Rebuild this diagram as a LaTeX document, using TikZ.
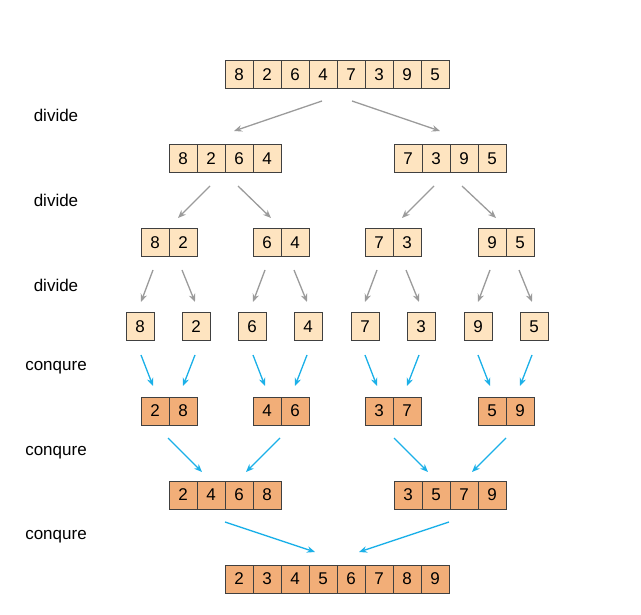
\documentclass[tikz,border=0pt]{standalone}
\usepackage{fontspec}
\setmainfont{Liberation Sans}
\usetikzlibrary{arrows.meta}
\definecolor{peach}{HTML}{FEE4C0}
\definecolor{apricot}{HTML}{F2AE78}
\definecolor{cellline}{HTML}{404040}
\definecolor{splitgray}{HTML}{9B9B9B}
\definecolor{mergeblue}{HTML}{1BB0E8}
\tikzset{
  cell/.style={draw=cellline, line width=1pt, minimum width=28, minimum height=28,
    inner sep=0pt, font=\fontsize{17}{19}\selectfont},
  lite/.style={cell, fill=peach},
  dark/.style={cell, fill=apricot},
  tag/.style={font=\fontsize{17}{19}\selectfont, anchor=center},
  splitarrow/.style={draw=splitgray, line width=1.3pt, -{Stealth[length=8pt,width=6.5pt]}},
  mergearrow/.style={draw=mergeblue, line width=1.3pt, -{Stealth[length=8pt,width=6.5pt]}},
}
% a row of cells: name, style, left edge, vertical centre, values
\newcommand\cellrow[5]{%
  \foreach \v [count=\i] in {#5}
    \node[#2] (#1-\i) at ({#3+28*\i-14}, #4) {\v};}
\begin{document}
\begin{tikzpicture}[x=1pt,y=-1pt]
\useasboundingbox (0,0) rectangle (641,615);

% step labels
\node[tag] (t1) at (56,115) {divide};
\node[tag] (t2) at (56,200) {divide};
\node[tag] (t3) at (56,285) {divide};
\node[tag] (t4) at (56,368) {conqure};
\node[tag] (t5) at (56,453) {conqure};
\node[tag] (t6) at (56,537) {conqure};

% split phase
\cellrow{r0}{lite}{225}{75}{8,2,6,4,7,3,9,5}
\cellrow{r1a}{lite}{169}{159}{8,2,6,4}
\cellrow{r1b}{lite}{394}{159}{7,3,9,5}
\cellrow{r2a}{lite}{141}{243}{8,2}
\cellrow{r2b}{lite}{253}{243}{6,4}
\cellrow{r2c}{lite}{365}{243}{7,3}
\cellrow{r2d}{lite}{478}{243}{9,5}
\node[lite] (s1) at (140,327) {8};
\node[lite] (s2) at (196,327) {2};
\node[lite] (s3) at (252,327) {6};
\node[lite] (s4) at (308,327) {4};
\node[lite] (s5) at (365,327) {7};
\node[lite] (s6) at (421,327) {3};
\node[lite] (s7) at (478,327) {9};
\node[lite] (s8) at (534,327) {5};

% merge phase
\cellrow{m1a}{dark}{141}{411}{2,8}
\cellrow{m1b}{dark}{253}{411}{4,6}
\cellrow{m1c}{dark}{365}{411}{3,7}
\cellrow{m1d}{dark}{478}{411}{5,9}
\cellrow{m2a}{dark}{169}{495}{2,4,6,8}
\cellrow{m2b}{dark}{394}{495}{3,5,7,9}
\cellrow{m3}{dark}{225}{579}{2,3,4,5,6,7,8,9}

% arrow ends
\coordinate (a1s) at (322,101); \coordinate (a1e) at (234,131);
\coordinate (a2s) at (352,101); \coordinate (a2e) at (440,131);
\coordinate (b1s) at (210,186); \coordinate (b1e) at (178,218);
\coordinate (b2s) at (238,186); \coordinate (b2e) at (271,218);
\coordinate (b3s) at (434,186); \coordinate (b3e) at (402,218);
\coordinate (b4s) at (462,186); \coordinate (b4e) at (496,218);

\draw[splitarrow] (a1s) -- (a1e);
\draw[splitarrow] (a2s) -- (a2e);
\draw[splitarrow] (b1s) -- (b1e);
\draw[splitarrow] (b2s) -- (b2e);
\draw[splitarrow] (b3s) -- (b3e);
\draw[splitarrow] (b4s) -- (b4e);

\foreach \dx [count=\k] in {0,112,224,337} {
  \coordinate (c\k ls) at (153+\dx,270); \coordinate (c\k le) at (141+\dx,302);
  \coordinate (c\k rs) at (182+\dx,270); \coordinate (c\k re) at (195+\dx,302);
  \draw[splitarrow] (c\k ls) -- (c\k le);
  \draw[splitarrow] (c\k rs) -- (c\k re);
  \coordinate (d\k ls) at (141+\dx,355); \coordinate (d\k le) at (153+\dx,386);
  \coordinate (d\k rs) at (195+\dx,355); \coordinate (d\k re) at (183+\dx,386);
  \draw[mergearrow] (d\k ls) -- (d\k le);
  \draw[mergearrow] (d\k rs) -- (d\k re);
}

\coordinate (e1s) at (168,438); \coordinate (e1e) at (202,472);
\coordinate (e2s) at (280,438); \coordinate (e2e) at (246,472);
\coordinate (e3s) at (394,438); \coordinate (e3e) at (428,472);
\coordinate (e4s) at (506,438); \coordinate (e4e) at (472,472);
\coordinate (f1s) at (225,522); \coordinate (f1e) at (315,552);
\coordinate (f2s) at (449,522); \coordinate (f2e) at (359,552);

\draw[mergearrow] (e1s) -- (e1e);
\draw[mergearrow] (e2s) -- (e2e);
\draw[mergearrow] (e3s) -- (e3e);
\draw[mergearrow] (e4s) -- (e4e);
\draw[mergearrow] (f1s) -- (f1e);
\draw[mergearrow] (f2s) -- (f2e);
\end{tikzpicture}
\end{document}
